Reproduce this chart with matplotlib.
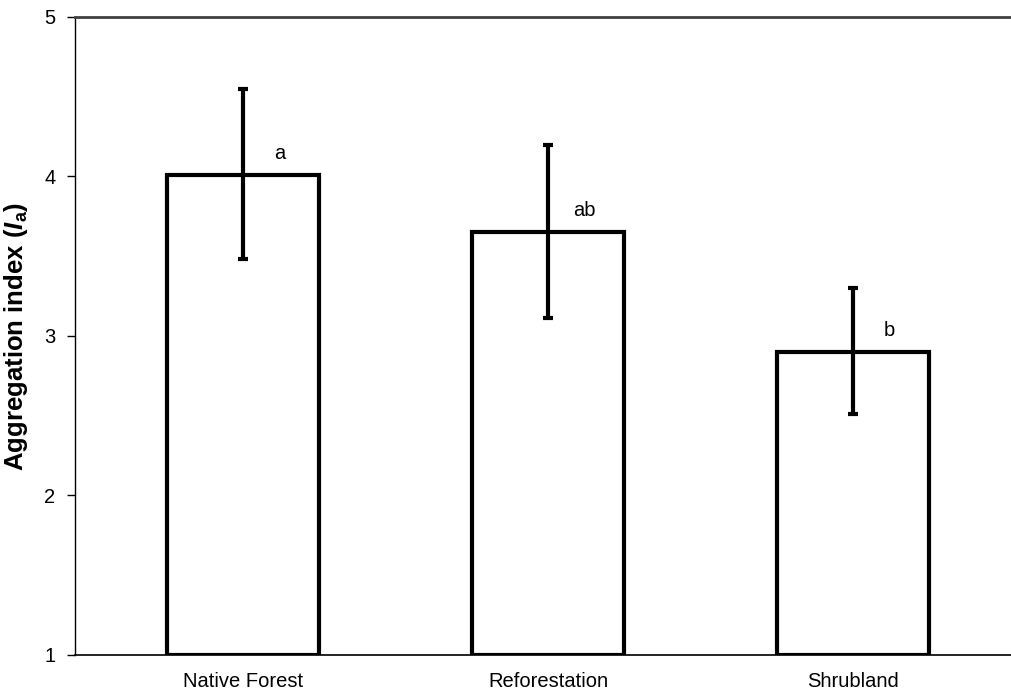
import matplotlib
matplotlib.use("Agg")
import matplotlib.pyplot as plt

plt.rcParams['font.family'] = ['Liberation Sans', 'DejaVu Sans']
plt.rcParams['mathtext.fontset'] = 'custom'
plt.rcParams['mathtext.rm'] = 'Liberation Sans'
plt.rcParams['mathtext.bf'] = 'Liberation Sans:bold'
plt.rcParams['mathtext.it'] = 'Liberation Sans:italic'
plt.rcParams['mathtext.bfit'] = 'Liberation Sans:bold:italic'

categories = ["Native Forest", "Reforestation", "Shrubland"]
means = [4.01, 3.65, 2.90]
err_upper = [4.55, 4.20, 3.30]
err_lower = [3.48, 3.11, 2.51]
letters = ["a", "ab", "b"]
yticks = [1, 2, 3, 4, 5]

fig = plt.figure(figsize=(10.11, 6.97), dpi=100)
ax = fig.add_axes([75/1011, 1-655/697, 1-75/1011, (655-17)/697])

x = list(range(len(categories)))
yerr = [[m - lo for m, lo in zip(means, err_lower)],
        [hi - m for m, hi in zip(means, err_upper)]]

ax.bar(x, [m - 1 for m in means], bottom=1, width=0.50, facecolor='white',
       edgecolor='black', linewidth=3, zorder=2)
ax.errorbar(x, means, yerr=yerr, fmt='none', ecolor='black', elinewidth=3,
            capsize=3.5, capthick=3, zorder=3)

for xi, m, l in zip(x, means, letters):
    ax.text(xi + 0.12, m + 0.075, l, ha='center', va='bottom', fontsize=14.5)

ax.set_xlim(-0.551, 2.518)
ax.set_ylim(1, 5)
ax.set_yticks(yticks)
ax.set_xticks(x)
ax.set_xticklabels(categories, fontsize=14.5)
ax.tick_params(axis='x', length=0, pad=12)
ax.tick_params(axis='y', length=6, width=1, labelsize=14.5, pad=8, direction='out')

ax.spines['right'].set_visible(False)
ax.spines['top'].set_color('#404040')
ax.spines['top'].set_linewidth(2)
ax.spines['left'].set_linewidth(1)
ax.spines['bottom'].set_linewidth(1.2)

ax.set_ylabel(r'Aggregation index ($\mathbfit{I}_{\mathbf{a}}$)', fontsize=18.5,
              fontweight='bold', labelpad=10)

fig.savefig("out.png", dpi=100)
